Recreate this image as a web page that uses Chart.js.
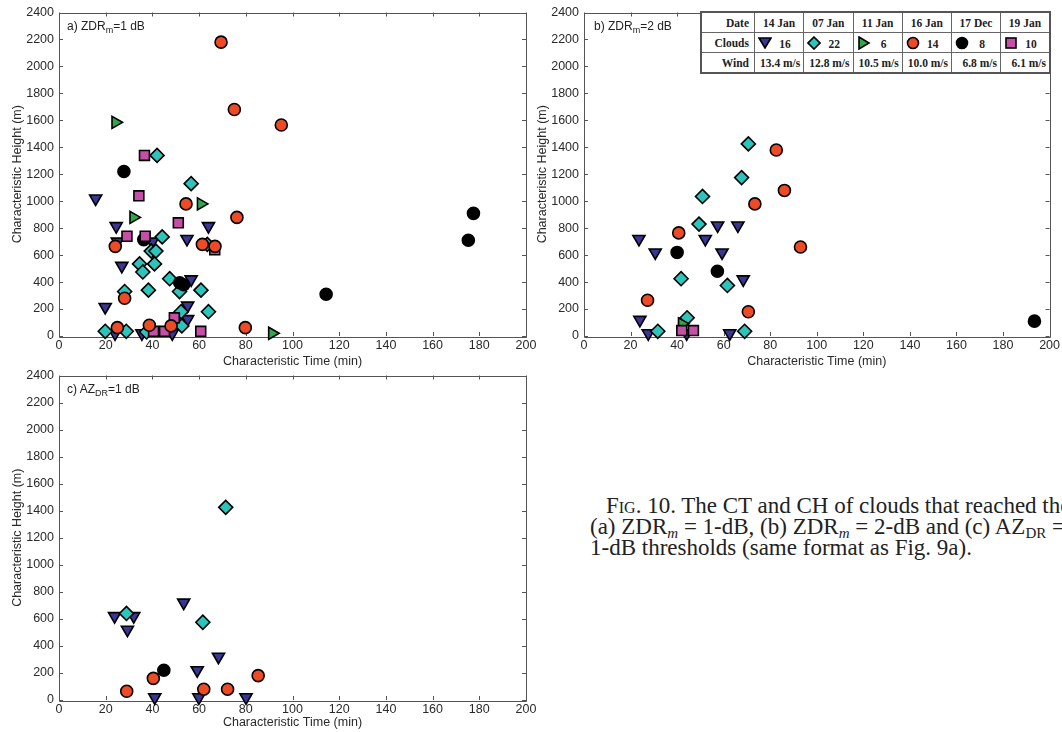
<!DOCTYPE html>
<html>
<head>
<meta charset="utf-8">
<script src="https://cdn.jsdelivr.net/npm/chart.js@4.4.1/dist/chart.umd.min.js"></script>
<style>
  html, body { margin: 0; padding: 0; background: #fff; }
  body { width: 1062px; height: 732px; position: relative; overflow: hidden; font-family: 'Liberation Sans', Arial, sans-serif; }
  canvas { position: absolute; }
  .plabel { position: absolute; font-size: 12px; color: #222; white-space: nowrap; }
  .plabel sub { font-size: 9px; vertical-align: -3px; }
  #legendTbl { position: absolute; left: 700px; top: 11px; width: 351px; height: 61px; border-collapse: collapse;
    border: 2px solid #555; background: #fff; font-family: 'Liberation Serif', 'Times New Roman', serif;
    font-size: 11.5px; font-weight: bold; color: #222; }
  #legendTbl td { border: 1px solid #666; padding: 0 3px; text-align: center; height: 19px; white-space: nowrap; }
  #legendTbl td.hd { text-align: right; padding-right: 5px; width: 44px; }
  #legendTbl td.mk { text-align: left; }
  #legendTbl td.mk svg { vertical-align: -2px; }
  #legendTbl td.mk span { display: inline-block; width: 26px; text-align: center; }
  #legendTbl td.wd { text-align: right; }
  .caption { position: absolute; left: 590px; font-family: 'Liberation Serif', 'Times New Roman', serif; font-size: 23px;
    line-height: 22px; color: #222; white-space: nowrap; }
  .caption sub { font-size: 15px; vertical-align: -4px; line-height: 0; }
  .caption .sc { font-variant: small-caps; }
</style>
</head>
<body>
<canvas id="chartA" width="540" height="370" style="left:0;top:0"></canvas>
<canvas id="chartB" width="532" height="370" style="left:530px;top:0"></canvas>
<canvas id="chartC" width="540" height="369" style="left:0;top:363px"></canvas>

<div class="plabel" style="left:67px;top:19px">a) ZDR<sub>m</sub>=1 dB</div>
<div class="plabel" style="left:594px;top:19px">b) ZDR<sub>m</sub>=2 dB</div>
<div class="plabel" style="left:67px;top:382px">c) AZ<sub>DR</sub>=1 dB</div>

<table id="legendTbl"></table>

<div class="caption" style="left:606px;top:495px"><span class="sc">Fig</span>. 10. The CT and CH of clouds that reached the</div>
<div class="caption" style="top:516px">(a) ZDR<sub><i>m</i></sub> = 1-dB, (b) ZDR<sub><i>m</i></sub> = 2-dB and (c) AZ<sub>DR</sub> =</div>
<div class="caption" style="top:537px">1-dB thresholds (same format as Fig. 9a).</div>

<script>
// ---- legend table data ----
const dates = ['14 Jan', '07 Jan', '11 Jan', '16 Jan', '17 Dec', '19 Jan'];
const cloudCounts = [16, 22, 6, 14, 8, 10];
const winds = ['13.4 m/s', '12.8 m/s', '10.5 m/s', '10.0 m/s', '6.8 m/s', '6.1 m/s'];

// ---- axis ranges ----
const xMax = 200, xStep = 20;
const yMax = 2400, yStep = 200;

// ---- panel a) ZDRm = 1 dB  [time (min), height (m)] ----
const aJan14 = [[15.7,1020],[24.5,815],[25,700],[26.9,520],[19.8,215],[54.8,720],[64,815],[56.6,420],[55.1,225],[55.1,125],[35.5,20],[48.5,20],[40,700],[24,20]];
const aJan07 = [[42,1340],[56.6,1130],[44.2,735],[39.5,630],[41.5,630],[34.5,535],[35.9,475],[40.9,535],[38.3,340],[47.4,425],[51.6,330],[60.8,340],[52.3,180],[64,180],[52.6,75],[28.1,330],[19.8,35],[28.8,35],[37.5,30],[63.5,680]];
const aJan11 = [[24.2,1585],[31.9,880],[60.8,980],[91.3,20]];
const aJan16 = [[69.4,2180],[75.1,1680],[95.2,1565],[76.2,880],[54.4,980],[61.4,680],[66.8,665],[24.1,665],[28.1,280],[25,62],[38.7,80],[48,75],[79.8,62]];
const aDec17 = [[27.8,1220],[36.3,715],[51.7,395],[53.4,380],[114.4,310],[175.3,710],[177.5,910]];
const aJan19 = [[36.6,1340],[34.2,1040],[51.1,840],[29.1,740],[36.9,740],[66.7,640],[49.4,135],[60.7,35],[40.5,35],[45.2,35]];

// ---- panel b) ZDRm = 2 dB ----
const bJan14 = [[23.6,720],[30.6,620],[52.1,720],[57.4,820],[59.3,620],[66.1,820],[68.4,420],[24,120],[27.6,20],[44.1,20],[62.6,20]];
const bJan07 = [[70.6,1425],[67.7,1175],[50.9,1035],[49.4,830],[41.7,425],[61.6,375],[44.3,135],[31.7,35],[69,35]];
const bJan11 = [[42.1,90]];
const bJan16 = [[82.6,1380],[86.1,1080],[73.4,980],[93,660],[40.7,765],[27.3,265],[70.6,180]];
const bDec17 = [[40,620],[57.3,480],[193.5,110]];
const bJan19 = [[42,40],[47,40]];

// ---- panel c) AZDR = 1 dB ----
const cJan14 = [[23.8,620],[32,620],[29.3,520],[53.4,720],[68.3,320],[59.2,220],[41,20],[59.9,20],[80.1,20]];
const cJan07 = [[28.9,640],[61.6,575],[71.4,1425]];
const cJan11 = [];
const cJan16 = [[29,65],[40.4,160],[62,80],[72.2,80],[85.3,180]];
const cDec17 = [[44.9,220]];
const cJan19 = [];

// marker styles per cloud day (same order as dates)
const markers = [
  { color: '#3b3593', style: 'triangle', rotation: 180, radius: 7 },
  { color: '#2cc4bb', style: 'rectRot', rotation: 0, radius: 7 },
  { color: '#2fa84b', style: 'triangle', rotation: 90, radius: 7 },
  { color: '#ec4b26', style: 'circle', rotation: 0, radius: 6 },
  { color: '#000000', style: 'circle', rotation: 0, radius: 6 },
  { color: '#c54fa6', style: 'rect', rotation: 0, radius: 7 }
];
// draw order: lower = on top
const drawOrder = [6, 5, 3, 1, 4, 2];

const fontTick = { family: "'Liberation Sans', Arial, sans-serif", size: 12.5 };
const textCol = '#2a2a2a';

// MATLAB-like box with inward ticks on all four sides
const boxPlugin = {
  id: 'boxTicks',
  beforeDatasetsDraw(chart) {
    const { ctx, chartArea: { left, right, top, bottom }, scales: { x, y } } = chart;
    ctx.save();
    ctx.strokeStyle = '#555';
    ctx.lineWidth = 1;
    ctx.beginPath();
    ctx.rect(Math.round(left) + 0.5, Math.round(top) + 0.5, Math.round(right - left), Math.round(bottom - top));
    const tl = 4;
    x.ticks.forEach(t => {
      const px = Math.round(x.getPixelForValue(t.value)) + 0.5;
      ctx.moveTo(px, bottom); ctx.lineTo(px, bottom - tl);
      ctx.moveTo(px, top); ctx.lineTo(px, top + tl);
    });
    y.ticks.forEach(t => {
      const py = Math.round(y.getPixelForValue(t.value)) + 0.5;
      ctx.moveTo(left, py); ctx.lineTo(left + tl, py);
      ctx.moveTo(right, py); ctx.lineTo(right - tl, py);
    });
    ctx.stroke();
    ctx.restore();
  }
};

function makePanel(id, seriesList, cfg) {
  const datasets = seriesList.map((pts, i) => ({
    label: dates[i],
    data: pts.map(p => ({ x: p[0], y: p[1] })),
    pointStyle: markers[i].style,
    rotation: markers[i].rotation,
    pointRadius: markers[i].radius,
    pointHoverRadius: markers[i].radius,
    backgroundColor: markers[i].color,
    borderColor: '#000',
    pointBorderWidth: 1.6,
    order: drawOrder[i],
    clip: false
  }));
  new Chart(document.getElementById(id), {
    type: 'scatter',
    data: { datasets },
    plugins: [boxPlugin],
    options: {
      responsive: false,
      animation: false,
      events: [],
      layout: { padding: cfg.padding },
      plugins: { legend: { display: false }, tooltip: { enabled: false } },
      scales: {
        x: {
          min: 0, max: xMax,
          grid: { display: false, drawTicks: false },
          border: { display: false },
          ticks: { stepSize: xStep, font: fontTick, color: textCol, padding: 2, maxRotation: 0,
                   callback: v => String(v) },
          title: { display: true, text: 'Characteristic Time (min)', font: fontTick, color: textCol,
                   padding: { top: 0, bottom: cfg.xTitlePad } },
          afterFit: s => { s.height = cfg.xAxisH; }
        },
        y: {
          min: 0, max: yMax,
          grid: { display: false, drawTicks: false },
          border: { display: false },
          ticks: { stepSize: yStep, font: fontTick, color: textCol, padding: 5,
                   callback: v => String(v) },
          title: { display: true, text: 'Characteristic Height (m)', font: fontTick, color: textCol,
                   padding: { top: cfg.yTitlePad, bottom: 0 } },
          afterFit: s => { s.width = cfg.yAxisW; }
        }
      }
    }
  });
}

makePanel('chartA', [aJan14, aJan07, aJan11, aJan16, aDec17, aJan19],
  { padding: { top: 12, right: 14, bottom: 0, left: 0 }, yAxisW: 59, xAxisH: 34, xTitlePad: 0.5, yTitlePad: 10.5 });
makePanel('chartB', [bJan14, bJan07, bJan11, bJan16, bDec17, bJan19],
  { padding: { top: 12, right: 11, bottom: 0, left: 0 }, yAxisW: 54, xAxisH: 34, xTitlePad: 0.5, yTitlePad: 5.5 });
makePanel('chartC', [cJan14, cJan07, cJan11, cJan16, cDec17, cJan19],
  { padding: { top: 12, right: 14, bottom: 0, left: 0 }, yAxisW: 59, xAxisH: 32, xTitlePad: 1.5, yTitlePad: 10.5 });

// ---- legend table ----
function markerSvg(m) {
  const c = m.color;
  let shape;
  if (m.style === 'triangle' && m.rotation === 180) shape = `<polygon points="1,2 13,2 7,12" fill="${c}" stroke="#000" stroke-width="1.6"/>`;
  else if (m.style === 'triangle') shape = `<polygon points="2,1 12,7 2,13" fill="${c}" stroke="#000" stroke-width="1.6"/>`;
  else if (m.style === 'rectRot') shape = `<polygon points="7,1 13,7 7,13 1,7" fill="${c}" stroke="#000" stroke-width="1.6"/>`;
  else if (m.style === 'circle') shape = `<circle cx="7" cy="7" r="5.5" fill="${c}" stroke="#000" stroke-width="1.6"/>`;
  else shape = `<rect x="2" y="2" width="10" height="10" fill="${c}" stroke="#000" stroke-width="1.6"/>`;
  return `<svg width="14" height="14" viewBox="0 0 14 14">${shape}</svg>`;
}
const tbl = document.getElementById('legendTbl');
tbl.innerHTML =
  '<tr><td class="hd">Date</td>' + dates.map(d => `<td>${d}</td>`).join('') + '</tr>' +
  '<tr><td class="hd">Clouds</td>' + cloudCounts.map((n, i) => `<td class="mk">${markerSvg(markers[i])}<span>${n}</span></td>`).join('') + '</tr>' +
  '<tr><td class="hd">Wind</td>' + winds.map(w => `<td class="wd">${w}</td>`).join('') + '</tr>';
</script>
</body>
</html>
